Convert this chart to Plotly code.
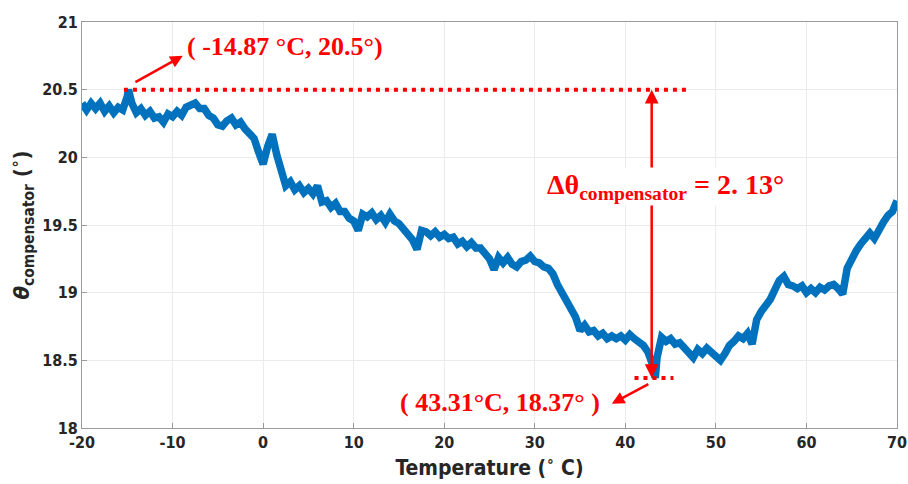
import numpy as np
import plotly.graph_objects as go

# Compensator angle versus temperature, sampled every 0.5 °C from -20 to 70 °C
temp_start, temp_stop, temp_step = -20.0, 70.0, 0.5
theta_deg = [
    20.40, 20.35, 20.40, 20.36, 20.40, 20.34, 20.38, 20.33, 20.37, 20.35,
    20.45, 20.40, 20.33, 20.36, 20.31, 20.34, 20.29, 20.30, 20.26, 20.32,
    20.30, 20.34, 20.31, 20.37, 20.39, 20.40, 20.36, 20.36, 20.31, 20.29,
    20.24, 20.23, 20.27, 20.29, 20.24, 20.26, 20.21, 20.18, 20.14, 20.04,
    19.95, 20.08, 20.17, 20.02, 19.88, 19.79, 19.82, 19.76, 19.79, 19.74,
    19.77, 19.73, 19.79, 19.67, 19.68, 19.63, 19.66, 19.60, 19.60, 19.55,
    19.53, 19.46, 19.58, 19.56, 19.59, 19.54, 19.57, 19.52, 19.58, 19.53,
    19.51, 19.47, 19.45, 19.39, 19.32, 19.46, 19.45, 19.42, 19.45, 19.41,
    19.43, 19.40, 19.41, 19.36, 19.38, 19.34, 19.37, 19.33, 19.33, 19.29,
    19.25, 19.17, 19.26, 19.22, 19.26, 19.21, 19.19, 19.23, 19.24, 19.27,
    19.23, 19.22, 19.19, 19.18, 19.14, 19.06, 19.00, 18.94, 18.88, 18.82,
    18.72, 18.76, 18.71, 18.72, 18.68, 18.70, 18.66, 18.68, 18.66, 18.68,
    18.65, 18.69, 18.66, 18.63, 18.61, 18.56, 18.47, 18.52, 18.67, 18.64,
    18.66, 18.62, 18.63, 18.59, 18.57, 18.52, 18.58, 18.55, 18.59, 18.56,
    18.54, 18.50, 18.55, 18.61, 18.64, 18.68, 18.66, 18.70, 18.62, 18.80,
    18.86, 18.90, 18.95, 19.02, 19.09, 19.12, 19.06, 19.05, 19.03, 19.05,
    19.00, 19.03, 19.00, 19.04, 19.02, 19.05, 19.06, 19.03, 18.99, 19.18,
    19.26, 19.31, 19.36, 19.40, 19.44, 19.40, 19.47, 19.52, 19.57, 19.60,
    19.68,
]

# Extremes of the measurement
peak_temp, peak_theta = -14.87, 20.50
min_temp, min_theta = 43.31, 18.37
delta_theta = round(peak_theta - min_theta, 2)

x_ticks = [-20, -10, 0, 10, 20, 30, 40, 50, 60, 70]
y_ticks = [18, 18.5, 19, 19.5, 20, 20.5, 21]
y_tick_text = ["18", "18.5", "19", "19.5", "20", "20.5", "21"]

grid_temp = np.arange(temp_start, temp_stop + temp_step / 2, temp_step)
temps = np.append(grid_temp, [peak_temp, min_temp])
thetas = np.append(np.array(theta_deg), [peak_theta, min_theta])
order = np.argsort(temps)
temps, thetas = temps[order], thetas[order]

RED = "#ff0000"
BLUE = "#0072bd"
SANS = "Liberation Sans Narrow, DejaVu Sans Condensed, Liberation Sans, Arial"
TICK_FONT = dict(family=SANS, size=16, color="#262626")
SERIF = "Liberation Serif, DejaVu Serif, Times New Roman, serif"

fig = go.Figure()

fig.add_trace(go.Scatter(
    x=temps, y=thetas, mode="lines",
    line=dict(color=BLUE, width=7.5),
    showlegend=False, hoverinfo="x+y",
))

# Dotted reference lines at the maximum and minimum angle
fig.add_trace(go.Scatter(
    x=[peak_temp - 0.5, min_temp + 3.4], y=[peak_theta, peak_theta], mode="lines",
    line=dict(color=RED, width=4, dash="4px,5px"), showlegend=False, hoverinfo="skip",
))
fig.add_trace(go.Scatter(
    x=[min_temp - 2.3, min_temp + 2.0], y=[min_theta, min_theta], mode="lines",
    line=dict(color=RED, width=4, dash="4px,5px"), showlegend=False, hoverinfo="skip",
))

mid_theta = (peak_theta + min_theta) / 2 + 0.35
delta_text = f"{delta_theta:.2f}".replace(".", ". ")
annotations = [
    # double-headed span arrow
    dict(x=min_temp - 0.4, y=peak_theta, ax=min_temp - 0.4, ay=mid_theta,
         xref="x", yref="y", axref="x", ayref="y", text="", showarrow=True,
         arrowhead=2, arrowsize=1.1, arrowwidth=2.5, arrowcolor=RED),
    dict(x=min_temp - 0.4, y=min_theta, ax=min_temp - 0.4, ay=mid_theta,
         xref="x", yref="y", axref="x", ayref="y", text="", showarrow=True,
         arrowhead=2, arrowsize=1.1, arrowwidth=2.5, arrowcolor=RED),
    dict(x=min_temp + 1.1, y=mid_theta, xref="x", yref="y", showarrow=False,
         text=f"<b>Δθ<sub>compensator</sub> = {delta_text}°</b>",
         font=dict(family=SERIF, size=28, color=RED), bgcolor="white", borderpad=1),
    # pointer to the maximum
    dict(x=peak_temp + 6.0, y=peak_theta + 0.25, ax=peak_temp + 0.6, ay=peak_theta + 0.05,
         xref="x", yref="y", axref="x", ayref="y", text="", showarrow=True,
         arrowhead=2, arrowsize=1.0, arrowwidth=2.5, arrowcolor=RED),
    dict(x=peak_temp + 6.2, y=peak_theta + 0.32, xref="x", yref="y", showarrow=False,
         xanchor="left", text=f"<b>( {peak_temp} °C, {peak_theta}°)</b>",
         font=dict(family=SERIF, size=26, color=RED)),
    # pointer to the minimum
    dict(x=min_temp - 4.8, y=min_theta - 0.19, ax=min_temp - 0.6, ay=min_theta - 0.04,
         xref="x", yref="y", axref="x", ayref="y", text="", showarrow=True,
         arrowhead=2, arrowsize=1.0, arrowwidth=2.5, arrowcolor=RED),
    dict(x=min_temp - 5.9, y=min_theta - 0.18, xref="x", yref="y", showarrow=False,
         xanchor="right", text=f"<b>( {min_temp}°C, {min_theta}° )</b>",
         font=dict(family=SERIF, size=26, color=RED)),
]

axis_common = dict(
    showline=True, linecolor="#9a9a9a", linewidth=1, mirror=True,
    showgrid=True, gridcolor="#ebebeb", gridwidth=1,
    ticks="inside", ticklen=5, tickcolor="#9a9a9a",
    zeroline=False, tickfont=TICK_FONT, automargin=False,
)

fig.update_layout(
    width=908, height=484,
    margin=dict(l=82, r=11, t=22, b=56),
    paper_bgcolor="white", plot_bgcolor="white",
    annotations=annotations,
    xaxis=dict(range=[temp_start, temp_stop], tickvals=x_ticks,
               ticktext=[f"<b>{v}</b>" for v in x_ticks],
               title=dict(text="<b>Temperature (<sup>∘</sup> C)</b>", standoff=4,
                          font=dict(family=SANS, size=21, color="#262626")),
               **axis_common),
    yaxis=dict(range=[18, 21], tickvals=y_ticks,
               ticktext=[f"<b>{t}</b>" for t in y_tick_text],
               title=dict(text="<b><i>θ</i><sub>compensator</sub> (<sup>∘</sup>)</b>", standoff=6,
                          font=dict(family=SANS, size=22, color="#262626")),
               **axis_common),
)

fig.write_html("out.html")
